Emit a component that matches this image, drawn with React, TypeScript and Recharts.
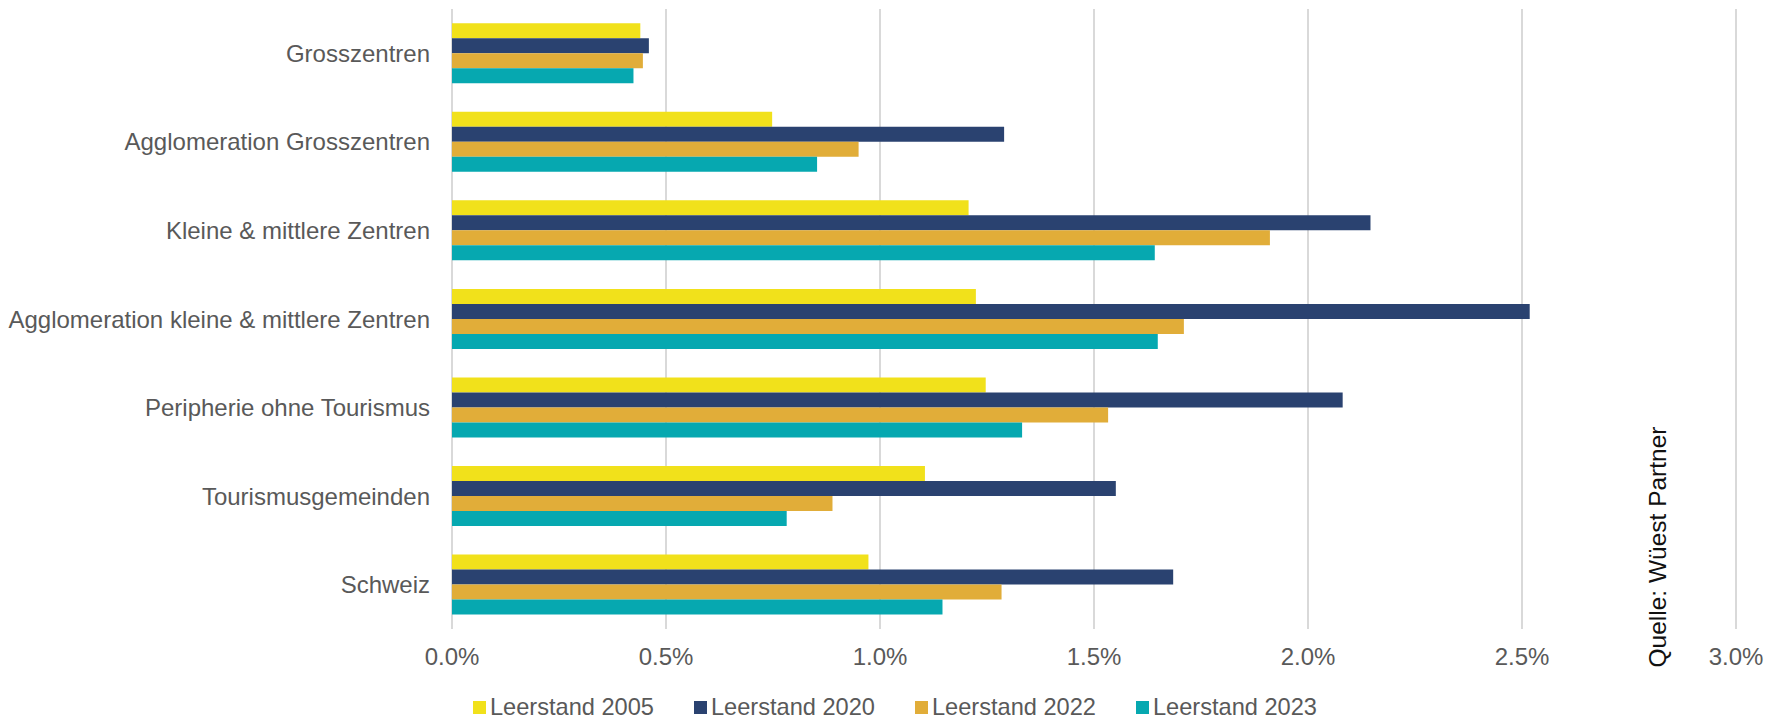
import React from 'react';
import { BarChart, Bar, XAxis, YAxis, CartesianGrid, Legend, Customized } from 'recharts';

const categories = [
  'Grosszentren',
  'Agglomeration Grosszentren',
  'Kleine & mittlere Zentren',
  'Agglomeration kleine & mittlere Zentren',
  'Peripherie ohne Tourismus',
  'Tourismusgemeinden',
  'Schweiz',
];

const leerstand2005 = [0.44, 0.748, 1.207, 1.224, 1.247, 1.105, 0.973];
const leerstand2020 = [0.46, 1.29, 2.146, 2.518, 2.081, 1.551, 1.685];
const leerstand2022 = [0.446, 0.95, 1.911, 1.71, 1.533, 0.889, 1.284];
const leerstand2023 = [0.424, 0.853, 1.642, 1.649, 1.332, 0.782, 1.146];

const xTicks = [0, 0.5, 1.0, 1.5, 2.0, 2.5, 3.0];

const seriesNames = ['Leerstand 2005', 'Leerstand 2020', 'Leerstand 2022', 'Leerstand 2023'];
const seriesKeys = ['s2005', 's2020', 's2022', 's2023'];
const seriesColors = ['#F1E11B', '#2A4270', '#E1AD39', '#06A8B0'];

const sourceText = 'Quelle: Wüest Partner';

const data = categories.map((c, i) => ({
  name: c,
  s2005: leerstand2005[i],
  s2020: leerstand2020[i],
  s2022: leerstand2022[i],
  s2023: leerstand2023[i],
}));

const FONT = '"Liberation Sans", Arial, sans-serif';
const TEXT = '#595959';

const LegendContent = () => (
  <div style={{ display: 'flex', height: 30, alignItems: 'center', paddingLeft: 473, fontFamily: FONT, fontSize: 23.6, color: TEXT }}>
    {seriesNames.map((n, i) => (
      <div key={n} style={{ display: 'flex', alignItems: 'center', width: 221 }}>
        <span style={{ display: 'inline-block', width: 13, height: 13, background: seriesColors[i], marginRight: 4 }} />
        <span style={{ lineHeight: '30px', whiteSpace: 'nowrap' }}>{n}</span>
      </div>
    ))}
  </div>
);

const SourceLabel = () => (
  <text
    x={1657}
    y={547}
    transform="rotate(-90 1657 547)"
    textAnchor="middle"
    dominantBaseline="central"
    fontFamily={FONT}
    fontSize={24.5}
    fill="#111111"
  >
    {sourceText}
  </text>
);

export default function App() {
  return (
    <div style={{ position: 'absolute', left: 0, top: 0, width: 1767, height: 722, background: '#fff' }}>
      <BarChart
        width={1767}
        height={722}
        data={data}
        layout="vertical"
        margin={{ top: 9, right: 31, bottom: 0, left: 0 }}
        barCategoryGap="16%"
        barGap={0}
      >
        <CartesianGrid horizontal={false} stroke="#D9D9D9" strokeWidth={2} />
        <XAxis
          type="number"
          domain={[0, 3]}
          ticks={xTicks}
          tickFormatter={(v: number) => v.toFixed(1) + '%'}
          axisLine={false}
          tickLine={false}
          tickSize={0}
          tickMargin={19}
          height={63}
          tick={{ fill: TEXT, fontSize: 24, fontFamily: FONT }}
          interval={0}
        />
        <YAxis
          type="category"
          dataKey="name"
          width={452}
          axisLine={false}
          tickLine={false}
          tickSize={0}
          tickMargin={22}
          interval={0}
          tick={{ fill: TEXT, fontSize: 24, fontFamily: FONT }}
        />
        <Legend verticalAlign="bottom" content={<LegendContent />} />
        {seriesKeys.map((k, i) => (
          <Bar key={k} dataKey={k} name={seriesNames[i]} fill={seriesColors[i]} isAnimationActive={false} />
        ))}
        <Customized component={SourceLabel} />
      </BarChart>
    </div>
  );
}
